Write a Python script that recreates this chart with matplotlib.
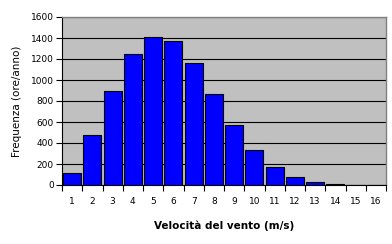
import matplotlib
matplotlib.use("Agg")
import matplotlib.pyplot as plt

categories = [str(i) for i in range(1, 17)]
frequenza = [110, 480, 900, 1245, 1405, 1370, 1160, 865, 570, 330, 170, 75, 25, 7, 0, 0]
y_ticks = [0, 200, 400, 600, 800, 1000, 1200, 1400, 1600]

fig = plt.figure(figsize=(3.92, 2.44), dpi=100)
ax = fig.add_axes([62/392, 1 - 185/244, (386-62)/392, (185-17)/244])
ax.set_facecolor("#C0C0C0")

x = list(range(len(categories)))
ax.bar(x, frequenza, width=0.9, color="#0000FF", edgecolor="black", linewidth=0.8, zorder=3)

ax.set_xlim(-0.5, len(categories) - 0.5)
ax.set_ylim(0, 1600)
ax.set_yticks(y_ticks)
ax.set_yticklabels([str(v) for v in y_ticks], fontsize=6.5)
ax.yaxis.grid(True, color="black", linewidth=0.8, zorder=1)
ax.set_axisbelow(True)

# category ticks at boundaries, labels at centers
ax.set_xticks([i - 0.5 for i in range(len(categories) + 1)])
ax.set_xticklabels([])
ax.set_xticks(x, minor=True)
ax.set_xticklabels(categories, minor=True, fontsize=6.5)
ax.tick_params(axis="x", which="minor", length=0, pad=9)
ax.tick_params(axis="x", which="major", length=4, width=0.8, direction="out")
ax.tick_params(axis="y", length=4, width=0.8, direction="out", pad=2)

for s in ["top", "right"]:
    ax.spines[s].set_color("#808080")
    ax.spines[s].set_linewidth(1)
for s in ["left", "bottom"]:
    ax.spines[s].set_color("black")
    ax.spines[s].set_linewidth(0.8)

ax.set_xlabel("Velocità del vento (m/s)", fontsize=7.5, fontweight="bold", labelpad=10)
ax.set_ylabel("Frequenza (ore/anno)", fontsize=7.5, labelpad=6)

fig.savefig("out.png", dpi=100, facecolor="white")
